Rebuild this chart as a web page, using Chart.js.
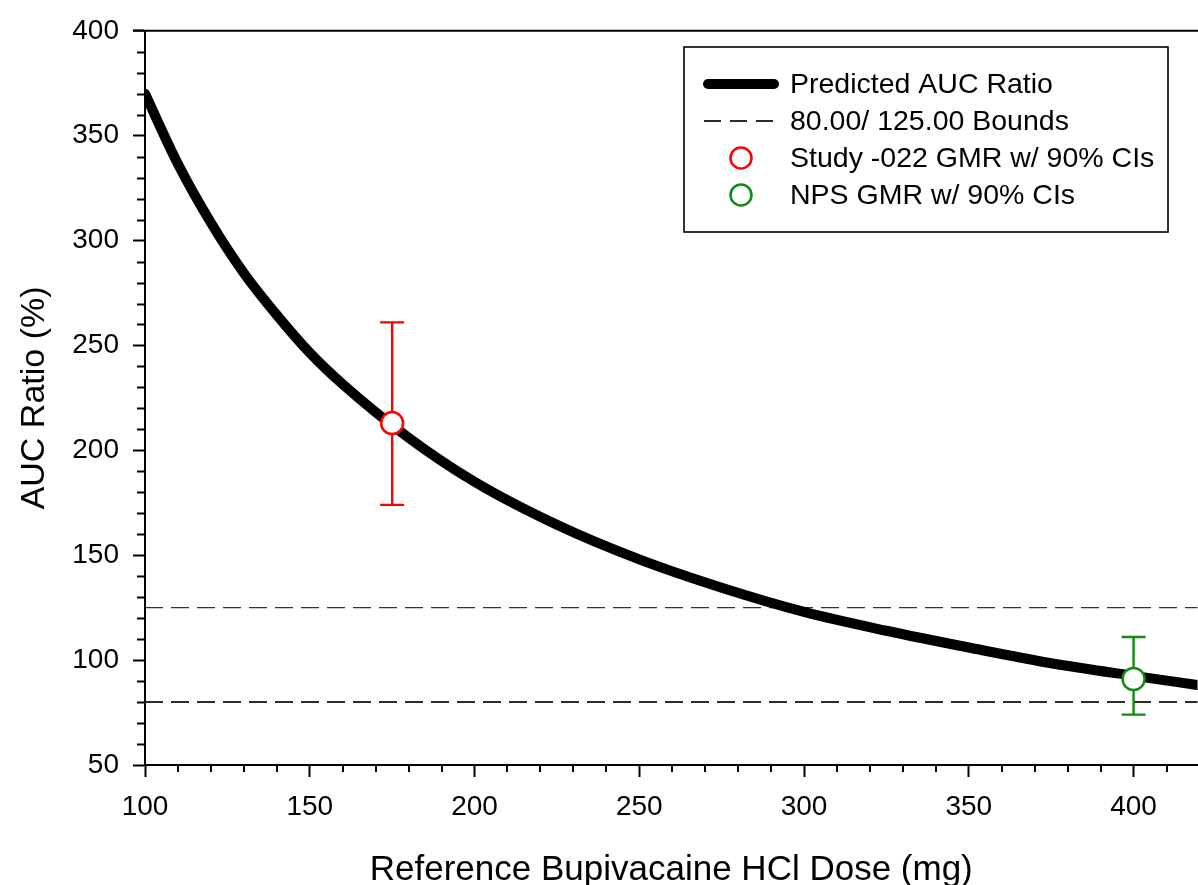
<!DOCTYPE html>
<html lang="en">
<head>
    <meta charset="UTF-8">
    <title>Predicted AUC Ratio vs Reference Dose</title>
    <style>
        html, body {
            margin: 0;
            padding: 0;
            background: #fff;
            overflow: hidden;
        }
        #wrap {
            width: 1211px;
            height: 885px;
        }
    </style>
</head>
<body>
    <div id="wrap"><canvas id="aucChart"></canvas></div>

    <script src="https://cdn.jsdelivr.net/npm/chart.js"></script>
    <script>
        // values
        const doses = [100, 110, 120, 130, 140, 150, 160, 180, 200, 225, 250, 275, 300, 325, 350, 375, 400, 420];
        const predictedAuc = [370, 336.5, 308.5, 284.5, 264.5, 246.5, 231.5, 206, 185, 164.5, 148, 134.5, 123, 114, 106, 98.5, 92.5, 88];
        const bounds = [80, 125];
        const studyDose = [175];
        const studyGmr = [213];
        const studyLow = [174];
        const studyHigh = [261];
        const npsDose = [400];
        const npsGmr = [91];
        const npsLow = [74];
        const npsHigh = [111];
        const xTicks = [100, 150, 200, 250, 300, 350, 400];
        const yTicks = [50, 100, 150, 200, 250, 300, 350, 400];

        const FONT = "'Liberation Sans', Arial, sans-serif";
        const X_MIN = 100, X_MAX = 419.4;

        const curveData = doses.map((d, i) => ({ x: d, y: predictedAuc[i] }));
        const boundData = (b) => [{ x: X_MIN, y: b }, { x: 420, y: b }];

        const datasets = [
            {
                label: 'Study -022 GMR w/ 90% CIs',
                type: 'scatter',
                data: studyDose.map((d, i) => ({ x: d, y: studyGmr[i] })),
                low: studyLow, high: studyHigh,
                pointRadius: 11,
                pointBackgroundColor: '#fff',
                pointBorderColor: '#ff0000',
                pointBorderWidth: 2.5,
                borderColor: '#ff0000'
            },
            {
                label: 'NPS GMR w/ 90% CIs',
                type: 'scatter',
                data: npsDose.map((d, i) => ({ x: d, y: npsGmr[i] })),
                low: npsLow, high: npsHigh,
                pointRadius: 11,
                pointBackgroundColor: '#fff',
                pointBorderColor: '#138a13',
                pointBorderWidth: 2.5,
                borderColor: '#138a13'
            },
            {
                label: 'Predicted AUC Ratio',
                type: 'line',
                data: curveData,
                borderColor: '#000',
                borderWidth: 10,
                borderCapStyle: 'round',
                pointRadius: 0,
                cubicInterpolationMode: 'monotone',
                fill: false
            },
            {
                label: '80.00/ 125.00 Bounds',
                type: 'line',
                data: boundData(bounds[0]),
                borderColor: '#2a2a2a',
                borderWidth: 2,
                borderDash: [18, 8],
                pointRadius: 0
            },
            {
                label: 'bound-hi',
                type: 'line',
                data: boundData(bounds[1]),
                borderColor: '#333',
                borderWidth: 1.4,
                borderDash: [18, 8],
                pointRadius: 0
            }
        ];

        // error bars, drawn under the circle markers
        const errorBars = {
            id: 'errorBars',
            afterDatasetDraw(chart, args) {
                if (args.index !== 2) return;
                const ds = chart.data.datasets;
                const xs = chart.scales.x, ys = chart.scales.y;
                const ctx = chart.ctx;
                [0, 1].forEach(k => {
                    const set = ds[k];
                    set.data.forEach((p, i) => {
                        const px = xs.getPixelForValue(p.x);
                        const lo = ys.getPixelForValue(set.low[i]);
                        const hi = ys.getPixelForValue(set.high[i]);
                        ctx.save();
                        ctx.strokeStyle = set.borderColor;
                        ctx.lineWidth = 2.4;
                        ctx.beginPath();
                        ctx.moveTo(px, lo); ctx.lineTo(px, hi);
                        ctx.moveTo(px - 12, lo); ctx.lineTo(px + 12, lo);
                        ctx.moveTo(px - 12, hi); ctx.lineTo(px + 12, hi);
                        ctx.stroke();
                        ctx.restore();
                    });
                });
            }
        };

        // minor ticks and top frame line
        const frameTicks = {
            id: 'frameTicks',
            afterDraw(chart) {
                const ctx = chart.ctx;
                const xs = chart.scales.x, ys = chart.scales.y;
                const a = chart.chartArea;
                ctx.save();
                ctx.strokeStyle = '#000';
                ctx.lineWidth = 2;
                ctx.beginPath();
                for (let v = 60; v < 400; v += 10) {
                    if (v % 50 === 0) continue;
                    const py = Math.round(ys.getPixelForValue(v)) + 0.5;
                    ctx.moveTo(a.left - 8, py); ctx.lineTo(a.left, py);
                }
                for (let v = 110; v <= 410; v += 10) {
                    if (v % 50 === 0) continue;
                    const px = Math.round(xs.getPixelForValue(v));
                    ctx.moveTo(px, a.bottom); ctx.lineTo(px, a.bottom + 7);
                }
                ctx.moveTo(a.left - 12, a.top);
                ctx.lineTo(a.right + 20, a.top);
                ctx.stroke();
                ctx.restore();
            }
        };

        // boxed legend inside the plot
        const boxLegend = {
            id: 'boxLegend',
            afterDraw(chart) {
                const ctx = chart.ctx;
                const ds = chart.data.datasets;
                const box = { x: 684, y: 47, w: 484, h: 185 };
                ctx.save();
                ctx.fillStyle = '#fff';
                ctx.fillRect(box.x, box.y, box.w, box.h);
                ctx.strokeStyle = '#000';
                ctx.lineWidth = 1.6;
                ctx.strokeRect(box.x, box.y, box.w, box.h);

                const rows = [ds[2], ds[3], ds[0], ds[1]];
                const rowY = [84, 121, 158, 195];
                const textX = 790;
                ctx.font = '28.5px ' + FONT;
                ctx.textBaseline = 'middle';
                ctx.fillStyle = '#000';
                rows.forEach((d, i) => {
                    const y = rowY[i];
                    ctx.save();
                    if (d.type === 'line') {
                        ctx.strokeStyle = d.borderColor;
                        ctx.lineWidth = i === 0 ? 10 : 2;
                        ctx.lineCap = i === 0 ? 'round' : 'butt';
                        ctx.setLineDash(i === 0 ? [] : [17, 9]);
                        ctx.beginPath();
                        ctx.moveTo(i === 0 ? 708 : 704, y);
                        ctx.lineTo(i === 0 ? 774 : 779, y);
                        ctx.stroke();
                    } else {
                        ctx.strokeStyle = d.pointBorderColor;
                        ctx.lineWidth = 2.5;
                        ctx.beginPath();
                        ctx.arc(741, y, 10.5, 0, Math.PI * 2);
                        ctx.stroke();
                    }
                    ctx.restore();
                    ctx.fillText(d.label, textX, y + 1);
                });
                ctx.restore();
            }
        };

        const ctx = document.getElementById('aucChart').getContext('2d');
        new Chart(ctx, {
            type: 'scatter',
            data: { datasets: datasets },
            options: {
                responsive: true,
                maintainAspectRatio: false,
                animation: false,
                layout: { padding: { top: 27, right: 0, left: 0, bottom: 0 } },
                plugins: {
                    legend: { display: false },
                    tooltip: { enabled: false }
                },
                scales: {
                    x: {
                        type: 'linear',
                        min: X_MIN,
                        max: X_MAX,
                        afterBuildTicks: (s) => { s.ticks = xTicks.map(v => ({ value: v })); },
                        afterFit: (s) => { s.height = 120; },
                        grid: {
                            drawOnChartArea: false,
                            tickLength: 12,
                            tickWidth: 2,
                            tickColor: '#000'
                        },
                        border: { display: true, color: '#000', width: 2 },
                        ticks: {
                            color: '#000',
                            padding: 13,
                            maxRotation: 0,
                            font: { family: FONT, size: 28 }
                        },
                        title: {
                            display: true,
                            text: 'Reference Bupivacaine HCl Dose (mg)',
                            color: '#000',
                            font: { family: FONT, size: 35 },
                            padding: { top: 0, bottom: -6 }
                        }
                    },
                    y: {
                        type: 'linear',
                        min: 50,
                        max: 400,
                        afterBuildTicks: (s) => { s.ticks = yTicks.map(v => ({ value: v })); },
                        afterFit: (s) => { s.width = 145; },
                        grid: {
                            drawOnChartArea: false,
                            tickLength: 12,
                            tickWidth: 2,
                            tickColor: '#000'
                        },
                        border: { display: true, color: '#000', width: 2 },
                        ticks: {
                            color: '#000',
                            padding: 14,
                            font: { family: FONT, size: 28 }
                        },
                        title: {
                            display: true,
                            text: 'AUC Ratio (%)',
                            color: '#000',
                            font: { family: FONT, size: 34 },
                            padding: { top: 14, bottom: 0 }
                        }
                    }
                }
            },
            plugins: [errorBars, frameTicks, boxLegend]
        });
    </script>
</body>
</html>
